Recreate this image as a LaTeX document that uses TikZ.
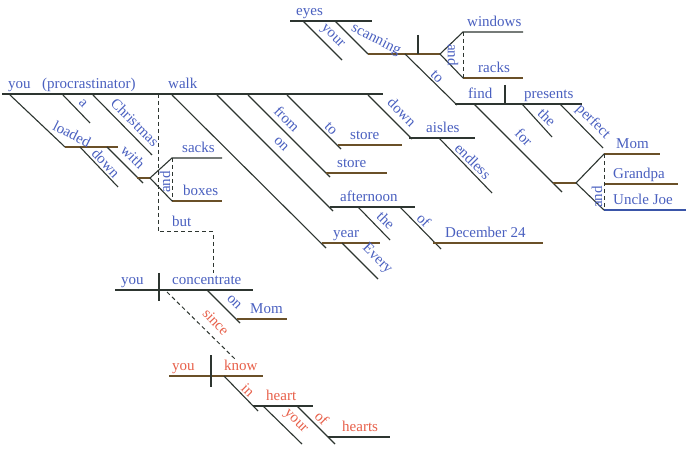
\documentclass[tikz,border=0pt]{standalone}
\usepackage{fontspec}
\setmainfont{Liberation Serif}
\definecolor{tb}{HTML}{4A60C0}
\definecolor{tr}{HTML}{E8604A}
\definecolor{ln}{HTML}{2D3530}
\definecolor{lb}{HTML}{6A5028}
\definecolor{lu}{HTML}{3A55A8}
\tikzset{
  w/.style={anchor=base west,inner sep=0pt,text=tb,font=\fontsize{15}{18}\selectfont},
  wr/.style={w,text=tr},
  d/.style={anchor=center,inner sep=0pt,text=tb,font=\fontsize{15}{18}\selectfont,rotate=-45},
  dr/.style={d,text=tr},
  ln/.style={draw=ln,line width=1.1pt},
  lb/.style={draw=lb,line width=1.1pt},
  lu/.style={draw=lu,line width=1.1pt},
  dl/.style={draw=ln,line width=1pt,dash pattern=on 4pt off 3pt}
}
\begin{document}
\begin{tikzpicture}[x=1pt,y=-1pt]
\useasboundingbox[fill=white] (0,0) rectangle (696,454);
% ---------- main clause ----------
\coordinate (m0) at (2,94); \coordinate (m1) at (383,94);
\draw[ln] (m0) -- (m1);
\node[w] (tyou) at (8,88.5) {you};
\node[w] (tproc) at (42,88.5) {(procrastinator)};
\node[w] (twalk) at (168,88.5) {walk};
% loaded down with
\coordinate (ld0) at (10,95); \coordinate (ld1) at (65,147); \coordinate (ld2) at (118,147);
\draw[ln] (ld0) -- (ld1); \draw[lb] (ld1) -- (ld2);
\node[d,rotate=18] (tloaded) at (72,134) {loaded};
\coordinate (dn0) at (80,147); \coordinate (dn1) at (118,187);
\draw[ln] (dn0) -- (dn1);
\node[d,rotate=-2] (tdown) at (106,163) {down};
\coordinate (wi0) at (107,147); \coordinate (wi1) at (143,183);
\draw[ln] (wi0) -- (wi1);
\node[d] (twith) at (133,157) {with};
\coordinate (wo0) at (137,178); \coordinate (wo1) at (150,178);
\draw[lb] (wo0) -- (wo1);
\coordinate (sk0) at (172,158); \coordinate (sk1) at (222,158);
\coordinate (bx0) at (172,201); \coordinate (bx1) at (222,201);
\draw[ln] (wo1) -- (sk0) -- (sk1);
\draw[ln] (wo1) -- (bx0); \draw[lb] (bx0) -- (bx1);
\draw[dl] (sk0) -- (bx0);
\node[w] (tsacks) at (182,152.5) {sacks};
\node[w] (tboxes) at (183,195.5) {boxes};
\node[d,rotate=135] (tand1) at (165,182) {and};
% a, Christmas
\coordinate (a0) at (63,95); \coordinate (a1) at (90,123);
\draw[ln] (a0) -- (a1);
\node[d] (ta) at (83,103) {a};
\coordinate (c0) at (93,95); \coordinate (c1) at (152,155);
\draw[ln] (c0) -- (c1);
\node[d] (tchr) at (135,122) {Christmas};
% but dashed
\coordinate (b0) at (158,94); \coordinate (b1) at (158,232);
\coordinate (b2) at (213,232); \coordinate (b3) at (213,273);
\draw[dl] (b0) -- (b1) -- (b2) -- (b3);
\node[w] (tbut) at (172,227) {but};
% walk diagonals
\coordinate (y0) at (172,95); \coordinate (y1) at (326,248);
\draw[ln] (y0) -- (y1);
\coordinate (on0) at (217,95); \coordinate (on1) at (333,211);
\draw[ln] (on0) -- (on1);
\node[d] (ton) at (281,144) {on};
\coordinate (fr0) at (248,95); \coordinate (fr1) at (330,177);
\draw[ln] (fr0) -- (fr1);
\node[d] (tfrom) at (287,119) {from};
\coordinate (to0) at (287,95); \coordinate (to1) at (341,149);
\draw[ln] (to0) -- (to1);
\node[d] (tto) at (331,129) {to};
\coordinate (dw0) at (368,95); \coordinate (dw1) at (412,139);
\draw[ln] (dw0) -- (dw1);
\node[d] (tdown2) at (402,112) {down};
% stores
\coordinate (s10) at (338,145); \coordinate (s11) at (402,145);
\draw[lb] (s10) -- (s11);
\node[w] (tstore1) at (350,139.5) {store};
\coordinate (s20) at (326,173); \coordinate (s21) at (387,173);
\draw[lb] (s20) -- (s21);
\node[w] (tstore2) at (337,167.5) {store};
% aisles
\coordinate (ai0) at (409,138); \coordinate (ai1) at (475,138);
\draw[ln] (ai0) -- (ai1);
\node[w] (taisles) at (426,132.5) {aisles};
\coordinate (en0) at (439,138); \coordinate (en1) at (492,193);
\draw[ln] (en0) -- (en1);
\node[d] (tendless) at (473,161) {endless};
% afternoon
\coordinate (af0) at (330,207); \coordinate (af1) at (415,207);
\draw[ln] (af0) -- (af1);
\node[w] (taft) at (340,201.5) {afternoon};
\coordinate (th0) at (358,207); \coordinate (th1) at (390,240);
\draw[ln] (th0) -- (th1);
\node[d] (tthe1) at (386,220) {the};
\coordinate (of0) at (400,207); \coordinate (of1) at (441,249);
\draw[ln] (of0) -- (of1);
\node[d] (tof1) at (424,220) {of};
\coordinate (de0) at (433,243); \coordinate (de1) at (543,243);
\draw[lb] (de0) -- (de1);
\node[w] (tdec) at (445,237.5) {December 24};
% year
\coordinate (yr0) at (322,243); \coordinate (yr1) at (380,243);
\draw[lb] (yr0) -- (yr1);
\node[w] (tyear) at (333,237.5) {year};
\coordinate (ev0) at (342,243); \coordinate (ev1) at (378,279);
\draw[ln] (ev0) -- (ev1);
\node[d] (tevery) at (377,259) {Every};
% ---------- eyes scanning ----------
\coordinate (e0) at (290,21); \coordinate (e1) at (372,21);
\draw[ln] (e0) -- (e1);
\node[w] (teyes) at (296,15.5) {eyes};
\coordinate (yo0) at (303,21); \coordinate (yo1) at (342,60);
\draw[ln] (yo0) -- (yo1);
\node[d] (tyour1) at (332,37) {your};
\coordinate (sc0) at (335,21); \coordinate (sc1) at (368,54); \coordinate (sc2) at (440,54);
\draw[ln] (sc0) -- (sc1); \draw[lb] (sc1) -- (sc2);
\node[d,rotate=18] (tscan) at (376,40) {scanning};
\coordinate (vb0) at (418,35); \coordinate (vb1) at (418,54);
\draw[ln] (vb0) -- (vb1);
\coordinate (wn0) at (463,32); \coordinate (wn1) at (523,32);
\coordinate (rk0) at (463,78); \coordinate (rk1) at (523,78);
\draw[ln] (sc2) -- (wn0) -- (wn1);
\draw[ln] (sc2) -- (rk0); \draw[lb] (rk0) -- (rk1);
\draw[dl] (wn0) -- (rk0);
\node[w] (twin) at (467,26.5) {windows};
\node[w] (track) at (478,72.5) {racks};
\node[d,rotate=-45] (tand2) at (453,55) {and};
% to find
\coordinate (tf0) at (405,54); \coordinate (tf1) at (457,105);
\draw[ln] (tf0) -- (tf1);
\node[d] (tto2) at (437,77) {to};
\coordinate (fi0) at (455,104); \coordinate (fi1) at (582,104);
\draw[ln] (fi0) -- (fi1);
\node[w] (tfind) at (468,98.5) {find};
\node[w] (tpres) at (524,98.5) {presents};
\coordinate (vc0) at (505,85); \coordinate (vc1) at (505,104);
\draw[ln] (vc0) -- (vc1);
\coordinate (te0) at (522,104); \coordinate (te1) at (552,137);
\draw[ln] (te0) -- (te1);
\node[d] (tthe2) at (547,117) {the};
\coordinate (pf0) at (560,104); \coordinate (pf1) at (603,148);
\draw[ln] (pf0) -- (pf1);
\node[d] (tperf) at (593,122) {perfect};
\coordinate (fo0) at (474,104); \coordinate (fo1) at (562,192);
\draw[ln] (fo0) -- (fo1);
\node[d] (tfor) at (524,137) {for};
\coordinate (fh0) at (553,183); \coordinate (fh1) at (576,183);
\draw[lb] (fh0) -- (fh1);
\coordinate (mo0) at (604,154); \coordinate (mo1) at (660,154);
\coordinate (gp0) at (604,184); \coordinate (gp1) at (678,184);
\coordinate (uj0) at (604,210); \coordinate (uj1) at (686,210);
\draw[ln] (fh1) -- (mo0); \draw[lb] (mo0) -- (mo1);
\draw[ln] (fh1) -- (uj0); \draw[lu] (uj0) -- (uj1);
\draw[lb] (gp0) -- (gp1);
\draw[dl] (mo0) -- (uj0);
\node[w] (tmom1) at (616,148.5) {Mom};
\node[w] (tgp) at (613,178.5) {Grandpa};
\node[w] (tuj) at (613,204.5) {Uncle Joe};
\node[d,rotate=135] (tand3) at (597,197) {and};
% ---------- concentrate ----------
\coordinate (k0) at (115,290); \coordinate (k1) at (253,290);
\draw[ln] (k0) -- (k1);
\coordinate (kv0) at (159,273); \coordinate (kv1) at (159,301);
\draw[ln] (kv0) -- (kv1);
\node[w] (tyou2) at (121,284.5) {you};
\node[w] (tconc) at (172,284.5) {concentrate};
\coordinate (ko0) at (207,290); \coordinate (ko1) at (240,323);
\draw[ln] (ko0) -- (ko1);
\node[d] (ton2) at (234,302) {on};
\coordinate (km0) at (237,319); \coordinate (km1) at (287,319);
\draw[lb] (km0) -- (km1);
\node[w] (tmom2) at (250,313.5) {Mom};
\coordinate (si0) at (167,292); \coordinate (si1) at (236,360);
\draw[dl] (si0) -- (si1);
\node[dr,rotate=-2] (tsince) at (216,322) {since};
% ---------- know ----------
\coordinate (n0) at (169,376); \coordinate (n1) at (263,376);
\draw[lb] (n0) -- (n1);
\coordinate (nv0) at (211,355); \coordinate (nv1) at (211,387);
\draw[ln] (nv0) -- (nv1);
\node[wr] (tyou3) at (172,370.5) {you};
\node[wr] (tknow) at (224,370.5) {know};
\coordinate (in0) at (224,376); \coordinate (in1) at (258,411);
\draw[ln] (in0) -- (in1);
\node[dr] (tin) at (248,390) {in};
\coordinate (h0) at (253,406); \coordinate (h1) at (313,406);
\draw[ln] (h0) -- (h1);
\node[wr] (theart) at (266,400.5) {heart};
\coordinate (yr20) at (263,406); \coordinate (yr21) at (302,444);
\draw[ln] (yr20) -- (yr21);
\node[dr] (tyour2) at (295,422) {your};
\coordinate (of20) at (297,406); \coordinate (of21) at (335,444);
\draw[ln] (of20) -- (of21);
\node[dr] (tof2) at (322,418) {of};
\coordinate (hs0) at (328,437); \coordinate (hs1) at (390,437);
\draw[ln] (hs0) -- (hs1);
\node[wr] (thearts) at (342,431.5) {hearts};
\end{tikzpicture}
\end{document}
